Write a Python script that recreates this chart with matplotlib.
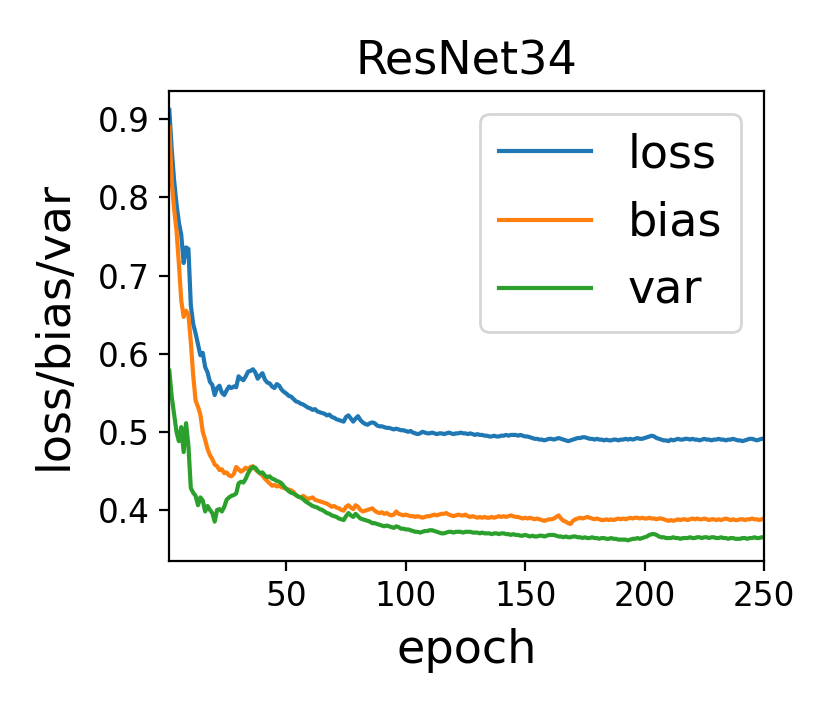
import matplotlib
matplotlib.use("Agg")
import matplotlib.pyplot as plt
import numpy as np

epochs = list(range(1, 251))

loss = [
0.912,0.862,0.822,0.792,0.768,0.752,0.716,0.736,0.734,0.662,
0.638,0.626,0.612,0.598,0.601,0.583,0.576,0.564,0.560,0.547,
0.556,0.559,0.550,0.547,0.553,0.558,0.556,0.558,0.557,0.571,
0.568,0.566,0.571,0.577,0.578,0.580,0.576,0.568,0.572,0.575,
0.567,0.563,0.562,0.558,0.556,0.561,0.559,0.554,0.551,0.549,
0.546,0.545,0.542,0.539,0.538,0.536,0.535,0.533,0.531,0.530,
0.528,0.529,0.526,0.525,0.524,0.523,0.521,0.522,0.519,0.518,
0.516,0.515,0.514,0.513,0.519,0.521,0.517,0.513,0.517,0.520,
0.515,0.512,0.510,0.509,0.511,0.512,0.511,0.508,0.507,0.507,
0.506,0.505,0.505,0.504,0.503,0.504,0.503,0.502,0.502,0.501,
0.500,0.501,0.499,0.498,0.497,0.498,0.500,0.499,0.498,0.498,
0.499,0.498,0.497,0.498,0.498,0.497,0.498,0.499,0.498,0.497,
0.498,0.498,0.499,0.498,0.498,0.497,0.498,0.497,0.496,0.497,
0.496,0.496,0.495,0.495,0.494,0.494,0.495,0.494,0.494,0.495,
0.495,0.496,0.495,0.496,0.496,0.496,0.495,0.496,0.495,0.494,
0.494,0.493,0.492,0.491,0.491,0.490,0.490,0.489,0.490,0.491,
0.491,0.490,0.491,0.492,0.491,0.490,0.489,0.488,0.489,0.490,
0.491,0.492,0.492,0.493,0.493,0.492,0.491,0.491,0.490,0.491,
0.490,0.490,0.489,0.490,0.489,0.489,0.490,0.490,0.489,0.490,
0.490,0.491,0.490,0.491,0.490,0.491,0.492,0.491,0.491,0.492,
0.493,0.494,0.495,0.494,0.492,0.491,0.490,0.489,0.489,0.488,
0.490,0.489,0.490,0.491,0.490,0.490,0.491,0.491,0.490,0.491,
0.490,0.490,0.489,0.490,0.491,0.490,0.490,0.489,0.490,0.490,
0.491,0.490,0.490,0.489,0.490,0.490,0.491,0.490,0.489,0.489,
0.488,0.489,0.490,0.491,0.491,0.490,0.489,0.490,0.491,0.491,
]

bias = [
0.890,0.820,0.785,0.758,0.715,0.668,0.647,0.655,0.650,0.615,
0.572,0.540,0.532,0.522,0.500,0.490,0.478,0.470,0.465,0.458,
0.456,0.451,0.452,0.447,0.448,0.444,0.443,0.446,0.455,0.452,
0.449,0.451,0.454,0.452,0.455,0.456,0.452,0.449,0.447,0.444,
0.440,0.437,0.434,0.431,0.432,0.430,0.431,0.429,0.428,0.427,
0.426,0.425,0.423,0.419,0.417,0.416,0.418,0.416,0.414,0.415,
0.416,0.413,0.412,0.411,0.410,0.409,0.408,0.406,0.404,0.405,
0.403,0.402,0.400,0.399,0.404,0.406,0.403,0.401,0.406,0.404,
0.400,0.398,0.399,0.400,0.401,0.402,0.399,0.397,0.396,0.397,
0.395,0.396,0.394,0.393,0.394,0.398,0.395,0.394,0.393,0.394,
0.393,0.392,0.392,0.391,0.392,0.391,0.390,0.391,0.392,0.392,
0.393,0.394,0.393,0.394,0.395,0.395,0.396,0.394,0.393,0.392,
0.393,0.394,0.393,0.393,0.394,0.392,0.391,0.392,0.391,0.390,
0.391,0.390,0.391,0.390,0.390,0.391,0.390,0.391,0.392,0.391,
0.392,0.391,0.392,0.393,0.392,0.391,0.391,0.390,0.389,0.390,
0.389,0.390,0.389,0.388,0.389,0.388,0.387,0.386,0.387,0.388,
0.388,0.389,0.391,0.393,0.389,0.386,0.385,0.383,0.382,0.386,
0.388,0.389,0.390,0.389,0.390,0.391,0.390,0.389,0.388,0.389,
0.388,0.387,0.387,0.388,0.387,0.388,0.387,0.388,0.389,0.388,
0.389,0.388,0.389,0.390,0.389,0.390,0.390,0.389,0.390,0.389,
0.389,0.390,0.389,0.389,0.388,0.389,0.389,0.388,0.387,0.386,
0.387,0.386,0.387,0.388,0.387,0.388,0.388,0.387,0.388,0.389,
0.388,0.389,0.388,0.388,0.389,0.388,0.387,0.388,0.388,0.387,
0.388,0.387,0.388,0.389,0.388,0.387,0.388,0.387,0.387,0.388,
0.388,0.387,0.388,0.388,0.389,0.388,0.388,0.387,0.388,0.389,
]

var = [
0.578,0.545,0.522,0.500,0.488,0.506,0.474,0.511,0.482,0.428,
0.422,0.418,0.406,0.416,0.412,0.398,0.405,0.400,0.396,0.385,
0.400,0.401,0.398,0.404,0.413,0.416,0.418,0.419,0.421,0.434,
0.436,0.435,0.440,0.447,0.452,0.455,0.454,0.450,0.447,0.448,
0.444,0.442,0.443,0.440,0.439,0.437,0.436,0.434,0.430,0.427,
0.424,0.422,0.421,0.419,0.417,0.416,0.414,0.411,0.409,0.407,
0.405,0.404,0.403,0.401,0.400,0.398,0.396,0.395,0.393,0.392,
0.391,0.389,0.388,0.387,0.392,0.396,0.393,0.391,0.395,0.392,
0.389,0.388,0.387,0.386,0.385,0.383,0.383,0.382,0.381,0.380,
0.379,0.380,0.379,0.378,0.377,0.379,0.378,0.376,0.376,0.375,
0.375,0.374,0.373,0.372,0.372,0.371,0.372,0.373,0.373,0.374,
0.374,0.373,0.372,0.371,0.370,0.370,0.371,0.372,0.372,0.371,
0.372,0.372,0.372,0.371,0.372,0.372,0.372,0.371,0.371,0.371,
0.370,0.371,0.370,0.370,0.370,0.369,0.370,0.370,0.369,0.370,
0.370,0.369,0.369,0.368,0.369,0.368,0.368,0.367,0.367,0.368,
0.367,0.366,0.367,0.366,0.366,0.367,0.367,0.366,0.367,0.368,
0.368,0.368,0.367,0.366,0.366,0.365,0.366,0.365,0.365,0.366,
0.366,0.365,0.365,0.364,0.365,0.364,0.364,0.365,0.364,0.364,
0.363,0.364,0.364,0.363,0.363,0.364,0.363,0.363,0.362,0.362,
0.362,0.362,0.361,0.362,0.363,0.363,0.364,0.363,0.364,0.365,
0.366,0.368,0.369,0.369,0.368,0.366,0.365,0.365,0.364,0.364,
0.364,0.365,0.364,0.364,0.363,0.364,0.364,0.364,0.365,0.364,
0.364,0.365,0.365,0.364,0.365,0.365,0.364,0.365,0.365,0.364,
0.364,0.365,0.364,0.364,0.363,0.364,0.364,0.363,0.363,0.363,
0.364,0.364,0.363,0.364,0.364,0.365,0.364,0.364,0.365,0.365,
]

series_names = ["loss", "bias", "var"]
title = "ResNet34"
xlabel = "epoch"
ylabel = "loss/bias/var"
xticks = [50, 100, 150, 200, 250]

fig = plt.figure(figsize=(4.15, 3.56), dpi=200)
ax = fig.add_axes([0.204, 0.2125, 0.7165, 0.6595])
for name, vals in zip(series_names, [loss, bias, var]):
    ax.plot(epochs, vals, label=name, linewidth=1.5)
ax.set_xlim(1, 250)
ax.set_ylim(0.335, 0.936)
ax.set_xticks(xticks)
ax.tick_params(labelsize=11.8)
ax.set_title(title, fontsize=16.6)
ax.set_xlabel(xlabel, fontsize=16.6, labelpad=5.5)
ax.set_ylabel(ylabel, fontsize=16.6, labelpad=7.5)
ax.legend(loc="upper right", fontsize=16.6)
fig.savefig("out.png", dpi=200)
